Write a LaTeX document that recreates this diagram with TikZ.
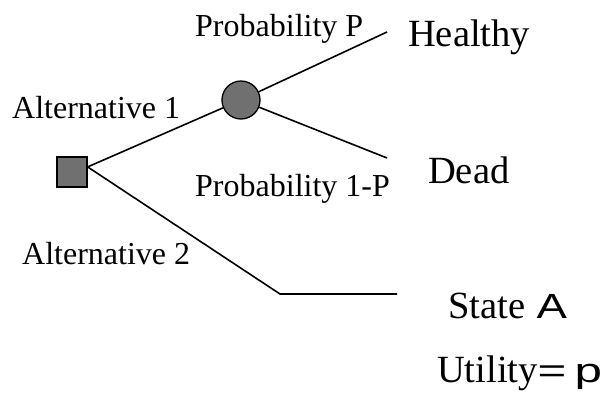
\documentclass[tikz,border=0pt]{standalone}
\usepackage{fontspec}
\setmainfont{Liberation Serif}
\newfontfamily\sansA{Liberation Sans}
\definecolor{nodegray}{RGB}{112,112,112}
\begin{document}
\begin{tikzpicture}[x=1pt,y=-1pt,
  branch/.style={line width=1.6pt},
  lbl/.style={anchor=base west,inner sep=0pt,font=\fontsize{32}{38}\selectfont},
  big/.style={anchor=base west,inner sep=0pt,font=\fontsize{38.5}{44}\selectfont},
  decision/.style={draw,line width=1.3pt,fill=nodegray,minimum size=30pt,inner sep=0pt},
  chance/.style={draw,line width=1.3pt,fill=nodegray,circle,minimum size=38pt,inner sep=0pt}]
\useasboundingbox (0,0) rectangle (606,397);
\node[decision] (sq) at (72,172) {};
\node[chance] (ch) at (241,100) {};
\coordinate (h) at (387,32);
\coordinate (d) at (387,158);
\coordinate (sa1) at (280,294);
\coordinate (sa2) at (397,294);
\draw[branch] (sq.18) -- (ch);
\draw[branch] (ch) -- (h);
\draw[branch] (ch) -- (d);
\draw[branch] (sq.18) -- (sa1) -- (sa2);
\node[lbl] (pp) at (195,36) {Probability P};
\node[lbl] (pq) at (195,196) {Probability 1-P};
\node[lbl] (a1) at (12,118) {Alternative 1};
\node[lbl] (a2) at (22,264) {Alternative 2};
\node[big] (hl) at (408,46) {Healthy};
\node[big] (dd) at (428,183) {Dead};
\node[big] (st) at (448,318) {State\hspace{0.3em}{\sansA\fontsize{35}{40}\selectfont\scalebox{1.3}[1]{A}}};
\node[big] (ut) at (437,382) {Utility{\sansA\fontsize{34}{40}\selectfont\scalebox{1.45}[1]{=\,p}}};
\end{tikzpicture}
\end{document}
